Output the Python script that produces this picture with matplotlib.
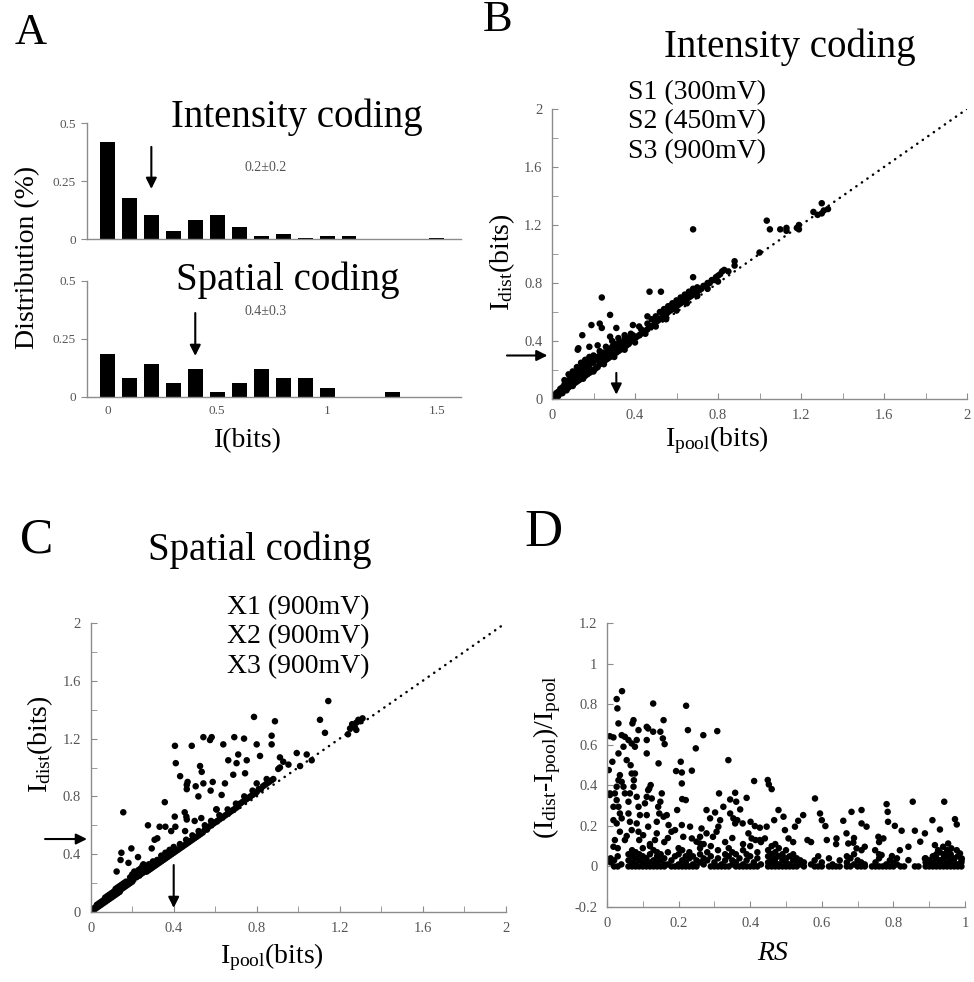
import matplotlib
matplotlib.use("Agg")
import matplotlib.pyplot as plt
from matplotlib.ticker import MultipleLocator, FuncFormatter

plt.rcParams['font.family'] = ['Liberation Serif', 'DejaVu Serif']
plt.rcParams['mathtext.fontset'] = 'custom'
plt.rcParams['mathtext.rm'] = 'Liberation Serif'
plt.rcParams['mathtext.it'] = 'Liberation Serif:italic'

# ---- panel A: histograms of information per pool ----
bin_centers = [0.0, 0.1, 0.2, 0.3, 0.4, 0.5, 0.6, 0.7, 0.8, 0.9, 1.0, 1.1, 1.2, 1.3, 1.4, 1.5]
intensity_dist = [0.42, 0.178, 0.103, 0.034, 0.082, 0.103, 0.053, 0.013, 0.02, 0.003,
                  0.013, 0.013, 0.002, 0.002, 0.002, 0.003]
spatial_dist = [0.184, 0.082, 0.144, 0.06, 0.122, 0.02, 0.06, 0.122, 0.082, 0.082,
                0.04, 0.002, 0.002, 0.02, 0.002, 0.002]
intensity_mean = 0.2
spatial_mean = 0.4

# ---- panel B: intensity coding, (I_pool, I_dist) ----
b_points = [
    (0.01, 0.01), (0.01, 0.02), (0.02, 0.02), (0.02, 0.04), (0.03, 0.03), (0.03, 0.05), (0.03, 0.02),
    (0.04, 0.04), (0.04, 0.07), (0.05, 0.05), (0.05, 0.08), (0.05, 0.04), (0.06, 0.06), (0.06, 0.10),
    (0.06, 0.13), (0.07, 0.07), (0.07, 0.11), (0.07, 0.06), (0.08, 0.08), (0.08, 0.13), (0.08, 0.17),
    (0.09, 0.09), (0.09, 0.14), (0.09, 0.11), (0.10, 0.10), (0.10, 0.16), (0.10, 0.19), (0.10, 0.09),
    (0.11, 0.11), (0.11, 0.18), (0.11, 0.14), (0.12, 0.12), (0.12, 0.19), (0.12, 0.16), (0.12, 0.22),
    (0.13, 0.13), (0.13, 0.21), (0.14, 0.14), (0.14, 0.22), (0.14, 0.18), (0.14, 0.25), (0.15, 0.15),
    (0.15, 0.23), (0.15, 0.19), (0.15, 0.14), (0.16, 0.16), (0.16, 0.24), (0.16, 0.27), (0.17, 0.17),
    (0.17, 0.21), (0.17, 0.26), (0.18, 0.18), (0.18, 0.23), (0.18, 0.29), (0.19, 0.19), (0.19, 0.27),
    (0.20, 0.20), (0.20, 0.25), (0.20, 0.30), (0.20, 0.19), (0.21, 0.21), (0.21, 0.29), (0.22, 0.22),
    (0.22, 0.27), (0.23, 0.24), (0.23, 0.30), (0.23, 0.33), (0.24, 0.25), (0.24, 0.29), (0.25, 0.26),
    (0.25, 0.32), (0.25, 0.24), (0.26, 0.27), (0.26, 0.31), (0.26, 0.36), (0.27, 0.28), (0.27, 0.34),
    (0.28, 0.29), (0.28, 0.32), (0.29, 0.30), (0.29, 0.36), (0.29, 0.40), (0.30, 0.31), (0.30, 0.34),
    (0.30, 0.29), (0.31, 0.32), (0.31, 0.38), (0.32, 0.33), (0.32, 0.36), (0.32, 0.42), (0.33, 0.34),
    (0.33, 0.39), (0.34, 0.35), (0.34, 0.38), (0.35, 0.36), (0.35, 0.41), (0.35, 0.44), (0.35, 0.34),
    (0.36, 0.37), (0.36, 0.40), (0.37, 0.38), (0.37, 0.42), (0.38, 0.40), (0.38, 0.45), (0.39, 0.41),
    (0.39, 0.44), (0.40, 0.42), (0.40, 0.39), (0.41, 0.43), (0.42, 0.44), (0.43, 0.45), (0.43, 0.48),
    (0.44, 0.46), (0.45, 0.47), (0.45, 0.45), (0.46, 0.48), (0.46, 0.52), (0.47, 0.50), (0.48, 0.50),
    (0.48, 0.55), (0.49, 0.51), (0.50, 0.53), (0.50, 0.57), (0.50, 0.50), (0.51, 0.54), (0.52, 0.55),
    (0.52, 0.60), (0.53, 0.56), (0.53, 0.59), (0.54, 0.57), (0.54, 0.62), (0.55, 0.58), (0.55, 0.55),
    (0.56, 0.60), (0.56, 0.64), (0.57, 0.61), (0.58, 0.62), (0.58, 0.66), (0.59, 0.63), (0.60, 0.64),
    (0.60, 0.68), (0.60, 0.61), (0.61, 0.65), (0.62, 0.66), (0.62, 0.70), (0.63, 0.67), (0.64, 0.68),
    (0.64, 0.72), (0.65, 0.69), (0.65, 0.66), (0.66, 0.70), (0.66, 0.74), (0.67, 0.71), (0.68, 0.72),
    (0.68, 0.76), (0.69, 0.73), (0.70, 0.74), (0.70, 0.77), (0.70, 0.71), (0.71, 0.75), (0.72, 0.76),
    (0.73, 0.78), (0.74, 0.78), (0.75, 0.80), (0.75, 0.76), (0.76, 0.80), (0.77, 0.82), (0.78, 0.82),
    (0.79, 0.84), (0.80, 0.85), (0.80, 0.81), (0.81, 0.86), (0.82, 0.88), (0.83, 0.89), (0.85, 0.88),
    # points well above the diagonal
    (0.146, 0.44), (0.127, 0.35), (0.124, 0.34), (0.18, 0.36), (0.19, 0.51), (0.23, 0.52), (0.24, 0.49),
    (0.24, 0.70), (0.28, 0.58), (0.22, 0.37), (0.31, 0.49), (0.28, 0.43), (0.39, 0.51), (0.42, 0.50),
    (0.46, 0.57), (0.47, 0.74), (0.525, 0.74), (0.68, 0.84), (0.68, 1.17),
    (0.88, 0.95), (0.88, 0.92), (1.00, 1.01), (1.035, 1.23), (1.05, 1.17), (1.10, 1.17), (1.13, 1.16),
    (1.13, 1.18), (1.18, 1.18), (1.19, 1.17), (1.19, 1.20), (1.26, 1.29), (1.28, 1.27), (1.30, 1.35),
    (1.30, 1.28), (1.33, 1.31), (1.31, 1.30),
]

# ---- panel C: spatial coding, (I_pool, I_dist) ----
c_points = [
    (0.01, 0.01), (0.01, 0.02), (0.02, 0.02), (0.02, 0.03), (0.03, 0.03), (0.03, 0.05), (0.04, 0.04),
    (0.04, 0.06), (0.05, 0.05), (0.05, 0.07), (0.06, 0.06), (0.06, 0.08), (0.07, 0.07), (0.07, 0.10),
    (0.08, 0.08), (0.08, 0.11), (0.09, 0.09), (0.09, 0.12), (0.10, 0.10), (0.10, 0.13), (0.11, 0.11),
    (0.11, 0.14), (0.12, 0.12), (0.12, 0.16), (0.13, 0.13), (0.13, 0.17), (0.14, 0.14), (0.14, 0.18),
    (0.15, 0.16), (0.15, 0.19), (0.16, 0.17), (0.16, 0.20), (0.17, 0.18), (0.17, 0.21), (0.18, 0.19),
    (0.18, 0.20), (0.19, 0.20), (0.19, 0.24), (0.20, 0.21), (0.20, 0.26), (0.21, 0.25), (0.21, 0.28),
    (0.22, 0.24), (0.22, 0.27), (0.23, 0.25), (0.23, 0.29), (0.24, 0.26), (0.24, 0.30), (0.25, 0.27),
    (0.25, 0.32), (0.26, 0.28), (0.26, 0.30), (0.27, 0.28), (0.27, 0.31), (0.28, 0.29), (0.28, 0.33),
    (0.29, 0.30), (0.29, 0.32), (0.30, 0.31), (0.30, 0.35), (0.31, 0.32), (0.32, 0.33), (0.32, 0.36),
    (0.33, 0.34), (0.34, 0.35), (0.34, 0.39), (0.35, 0.36), (0.36, 0.37), (0.36, 0.41), (0.37, 0.38),
    (0.38, 0.39), (0.38, 0.43), (0.39, 0.40), (0.40, 0.41), (0.40, 0.45), (0.41, 0.42), (0.42, 0.43),
    (0.43, 0.44), (0.43, 0.47), (0.44, 0.45), (0.45, 0.46), (0.46, 0.47), (0.46, 0.50), (0.47, 0.48),
    (0.48, 0.49), (0.49, 0.50), (0.49, 0.53), (0.50, 0.51), (0.51, 0.52), (0.52, 0.53), (0.52, 0.56),
    (0.53, 0.54), (0.54, 0.55), (0.55, 0.57), (0.55, 0.60), (0.56, 0.57), (0.57, 0.59), (0.58, 0.60),
    (0.58, 0.63), (0.59, 0.61), (0.60, 0.62), (0.61, 0.63), (0.62, 0.64), (0.62, 0.67), (0.63, 0.65),
    (0.64, 0.66), (0.65, 0.67), (0.66, 0.68), (0.66, 0.71), (0.67, 0.69), (0.68, 0.70), (0.69, 0.71),
    (0.70, 0.72), (0.70, 0.75), (0.71, 0.73), (0.72, 0.75), (0.73, 0.76), (0.74, 0.77), (0.74, 0.80),
    (0.75, 0.78), (0.76, 0.79), (0.77, 0.80), (0.78, 0.81), (0.78, 0.84), (0.79, 0.82), (0.80, 0.83),
    (0.81, 0.85), (0.82, 0.85), (0.83, 0.87), (0.84, 0.88), (0.85, 0.89), (0.86, 0.90), (0.87, 0.91),
    (0.88, 0.92),
    # points above the band
    (0.157, 0.69), (0.148, 0.41), (0.196, 0.44), (0.144, 0.36), (0.125, 0.28), (0.182, 0.34),
    (0.228, 0.38), (0.254, 0.33), (0.276, 0.60), (0.308, 0.50), (0.294, 0.44), (0.321, 0.51),
    (0.332, 0.59), (0.360, 0.59), (0.357, 0.76), (0.388, 0.56), (0.405, 0.66), (0.408, 0.59),
    (0.455, 0.56), (0.453, 0.69), (0.461, 0.66), (0.463, 0.64), (0.501, 0.63), (0.533, 0.65),
    (0.605, 0.71), (0.607, 0.71), (0.406, 1.15), (0.410, 1.03), (0.431, 0.94), (0.463, 0.88),
    (0.467, 0.90), (0.463, 0.85), (0.487, 1.15), (0.506, 0.87), (0.519, 0.80), (0.527, 1.01),
    (0.535, 0.97), (0.543, 1.21), (0.543, 0.89), (0.578, 0.84), (0.583, 1.21), (0.588, 0.90),
    (0.575, 1.19), (0.631, 0.81), (0.639, 1.16), (0.647, 0.89), (0.663, 1.05), (0.687, 0.95),
    (0.692, 1.21), (0.703, 1.03), (0.711, 1.09), (0.739, 1.20), (0.744, 0.96), (0.752, 1.05),
    (0.787, 1.35), (0.800, 1.16), (0.800, 0.89), (0.816, 1.08), (0.848, 0.92), (0.872, 1.22),
    (0.872, 1.16), (0.888, 1.32), (0.904, 0.99), (0.912, 1.00), (0.912, 1.07), (0.928, 1.04),
    (0.953, 1.02), (0.993, 1.10), (1.009, 1.01), (1.041, 1.09), (1.065, 1.05), (1.105, 1.33),
    (1.129, 1.24), (1.145, 1.46), (1.24, 1.23), (1.25, 1.27), (1.26, 1.30), (1.27, 1.28),
    (1.28, 1.31), (1.29, 1.33), (1.30, 1.32), (1.31, 1.34), (1.28, 1.26),
]

# ---- panel D: relative gain vs RS, (RS, (I_dist-I_pool)/I_pool) ----
d_points = [
    # upper scatter
    (0.042, 0.864), (0.027, 0.825), (0.029, 0.779), (0.032, 0.705), (0.129, 0.803), (0.221, 0.792),
    (0.226, 0.672), (0.308, 0.667), (0.269, 0.647), (0.248, 0.582), (0.008, 0.642), (0.018, 0.636),
    (0.074, 0.721), (0.071, 0.705), (0.088, 0.672), (0.111, 0.688), (0.115, 0.680), (0.158, 0.721),
    (0.149, 0.664), (0.156, 0.631), (0.161, 0.603), (0.129, 0.664), (0.041, 0.647), (0.050, 0.639),
    (0.060, 0.623), (0.069, 0.606), (0.083, 0.623), (0.078, 0.590), (0.046, 0.590), (0.032, 0.557),
    (0.111, 0.623), (0.111, 0.557), (0.055, 0.524), (0.015, 0.516), (0.144, 0.508), (0.206, 0.516),
    (0.209, 0.463), (0.237, 0.472), (0.193, 0.470), (0.005, 0.475), (0.339, 0.524), (0.209, 0.409),
    (0.411, 0.421), (0.449, 0.426), (0.452, 0.404), (0.460, 0.381), (0.581, 0.335), (0.313, 0.360),
    (0.358, 0.363), (0.344, 0.330), (0.361, 0.319), (0.390, 0.338), (0.210, 0.332), (0.220, 0.327),
    (0.008, 0.360), (0.008, 0.352), (0.854, 0.319), (0.942, 0.319), (0.781, 0.307), (0.683, 0.269),
    (0.711, 0.278), (0.784, 0.269), (0.972, 0.233), (0.977, 0.207), (0.909, 0.228), (0.930, 0.182),
    (0.660, 0.225), (0.711, 0.212), (0.725, 0.196), (0.785, 0.220), (0.804, 0.200), (0.823, 0.176),
    (0.860, 0.176), (0.888, 0.163), (0.595, 0.261), (0.600, 0.228), (0.610, 0.199), (0.614, 0.130),
    (0.641, 0.138), (0.669, 0.163), (0.674, 0.113), (0.688, 0.117), (0.697, 0.089), (0.711, 0.080),
    (0.720, 0.097), (0.749, 0.080), (0.758, 0.146), (0.772, 0.138), (0.767, 0.056), (0.796, 0.051),
    (0.818, 0.080), (0.842, 0.097), (0.875, 0.122), (0.888, 0.039), (0.842, 0.031), (0.916, 0.105),
    (0.925, 0.080), (0.939, 0.097), (0.953, 0.113), (0.962, 0.089), (0.977, 0.080), (0.986, 0.064),
    (0.991, 0.039), (0.548, 0.253), (0.534, 0.225), (0.525, 0.196), (0.507, 0.138), (0.493, 0.245),
    (0.497, 0.179), (0.479, 0.278), (0.467, 0.228), (0.446, 0.196), (0.427, 0.191), (0.413, 0.199),
    (0.401, 0.220), (0.395, 0.163), (0.441, 0.138), (0.427, 0.130), (0.415, 0.130), (0.404, 0.138),
    (0.372, 0.281), (0.353, 0.237), (0.364, 0.228), (0.358, 0.212), (0.379, 0.212), (0.344, 0.261),
    (0.325, 0.294), (0.302, 0.266), (0.288, 0.237), (0.278, 0.278), (0.316, 0.228), (0.311, 0.196),
    (0.306, 0.171), (0.296, 0.146), (0.278, 0.163), (0.264, 0.187), (0.260, 0.146), (0.260, 0.113),
    (0.250, 0.122), (0.232, 0.196), (0.237, 0.138), (0.209, 0.204), (0.213, 0.146), (0.196, 0.278),
    (0.190, 0.179), (0.180, 0.171), (0.172, 0.204), (0.167, 0.253), (0.158, 0.245), (0.153, 0.360),
    (0.149, 0.319), (0.143, 0.294), (0.146, 0.261), (0.139, 0.220), (0.139, 0.163), (0.134, 0.130),
    (0.125, 0.335), (0.118, 0.384), (0.122, 0.401), (0.115, 0.376), (0.111, 0.343), (0.106, 0.311),
    (0.111, 0.253), (0.115, 0.196), (0.101, 0.154), (0.088, 0.171), (0.083, 0.212), (0.092, 0.253),
    (0.088, 0.294), (0.083, 0.343), (0.074, 0.393), (0.075, 0.425), (0.069, 0.458), (0.066, 0.499),
    (0.078, 0.458), (0.064, 0.360), (0.060, 0.319), (0.060, 0.261), (0.064, 0.220), (0.069, 0.179),
    (0.050, 0.360), (0.046, 0.393), (0.041, 0.417), (0.036, 0.450), (0.032, 0.425), (0.027, 0.393),
    (0.022, 0.360), (0.027, 0.327), (0.032, 0.294), (0.036, 0.261), (0.041, 0.237), (0.027, 0.212),
    (0.018, 0.228), (0.018, 0.294), (0.036, 0.171), (0.022, 0.130), (0.018, 0.097), (0.050, 0.130),
    (0.055, 0.150), (0.090, 0.130), (0.120, 0.110), (0.160, 0.120), (0.170, 0.140), (0.270, 0.110),
    (0.330, 0.120), (0.350, 0.140), (0.380, 0.110), (0.430, 0.120), (0.470, 0.110), (0.520, 0.120),
    (0.560, 0.130), (0.570, 0.120), (0.640, 0.110), (0.690, 0.140), (0.760, 0.120),
    # dense band near zero
    (0.01, 0.02), (0.01, 0.04), (0.02, 0.00), (0.02, 0.03), (0.03, 0.00), (0.03, 0.05), (0.03, 0.09),
    (0.04, 0.01), (0.06, 0.00), (0.06, 0.03), (0.06, 0.06), (0.07, 0.00), (0.07, 0.02), (0.07, 0.05),
    (0.07, 0.08), (0.08, 0.00), (0.08, 0.01), (0.08, 0.04), (0.08, 0.07), (0.09, 0.00), (0.09, 0.03),
    (0.09, 0.06), (0.10, 0.00), (0.10, 0.02), (0.10, 0.05), (0.10, 0.09), (0.11, 0.00), (0.11, 0.01),
    (0.11, 0.04), (0.12, 0.00), (0.12, 0.02), (0.12, 0.06), (0.12, 0.10), (0.13, 0.00), (0.13, 0.01),
    (0.13, 0.03), (0.13, 0.08), (0.14, 0.00), (0.14, 0.02), (0.14, 0.05), (0.14, 0.07), (0.15, 0.00),
    (0.15, 0.03), (0.15, 0.06), (0.16, 0.00), (0.16, 0.01), (0.16, 0.04), (0.17, 0.01), (0.17, 0.07),
    (0.18, 0.00), (0.18, 0.03), (0.19, 0.00), (0.19, 0.05), (0.20, 0.00), (0.20, 0.01), (0.20, 0.06),
    (0.20, 0.09), (0.21, 0.00), (0.21, 0.03), (0.21, 0.08), (0.22, 0.00), (0.22, 0.02), (0.22, 0.05),
    (0.23, 0.00), (0.23, 0.04), (0.23, 0.07), (0.24, 0.00), (0.24, 0.01), (0.24, 0.05), (0.25, 0.00),
    (0.25, 0.03), (0.26, 0.02), (0.26, 0.06), (0.26, 0.09), (0.27, 0.01), (0.27, 0.04), (0.28, 0.03),
    (0.28, 0.07), (0.29, 0.00), (0.29, 0.05), (0.29, 0.10), (0.30, 0.00), (0.30, 0.02), (0.31, 0.00),
    (0.31, 0.04), (0.31, 0.08), (0.32, 0.00), (0.32, 0.01), (0.33, 0.00), (0.33, 0.03), (0.33, 0.06),
    (0.34, 0.00), (0.34, 0.05), (0.34, 0.09), (0.35, 0.01), (0.35, 0.03), (0.35, 0.07), (0.36, 0.00),
    (0.36, 0.02), (0.36, 0.06), (0.37, 0.00), (0.37, 0.04), (0.38, 0.00), (0.38, 0.01), (0.38, 0.08),
    (0.39, 0.00), (0.39, 0.03), (0.39, 0.06), (0.40, 0.00), (0.40, 0.05), (0.40, 0.10), (0.41, 0.00),
    (0.41, 0.02), (0.42, 0.00), (0.42, 0.04), (0.42, 0.07), (0.43, 0.01), (0.45, 0.00), (0.45, 0.02),
    (0.45, 0.05), (0.45, 0.08), (0.46, 0.00), (0.46, 0.01), (0.46, 0.03), (0.46, 0.06), (0.46, 0.10),
    (0.47, 0.00), (0.47, 0.02), (0.47, 0.04), (0.47, 0.07), (0.48, 0.00), (0.48, 0.01), (0.48, 0.05),
    (0.48, 0.09), (0.49, 0.00), (0.49, 0.03), (0.49, 0.06), (0.50, 0.00), (0.50, 0.02), (0.50, 0.04),
    (0.50, 0.08), (0.51, 0.00), (0.51, 0.01), (0.51, 0.05), (0.52, 0.00), (0.52, 0.03), (0.52, 0.06),
    (0.53, 0.00), (0.53, 0.02), (0.53, 0.04), (0.54, 0.01), (0.54, 0.03), (0.55, 0.00), (0.55, 0.02),
    (0.57, 0.01), (0.58, 0.00), (0.58, 0.03), (0.59, 0.00), (0.59, 0.05), (0.60, 0.00), (0.60, 0.02),
    (0.62, 0.00), (0.62, 0.04), (0.63, 0.00), (0.63, 0.01), (0.64, 0.00), (0.65, 0.00), (0.65, 0.03),
    (0.67, 0.00), (0.67, 0.02), (0.67, 0.05), (0.68, 0.00), (0.68, 0.04), (0.69, 0.01), (0.69, 0.06),
    (0.70, 0.00), (0.70, 0.03), (0.71, 0.00), (0.71, 0.02), (0.72, 0.00), (0.72, 0.01), (0.74, 0.00),
    (0.75, 0.00), (0.75, 0.02), (0.76, 0.00), (0.76, 0.04), (0.76, 0.06), (0.77, 0.00), (0.78, 0.00),
    (0.78, 0.01), (0.79, 0.00), (0.79, 0.03), (0.80, 0.00), (0.80, 0.02), (0.81, 0.01), (0.81, 0.04),
    (0.82, 0.00), (0.83, 0.00), (0.86, 0.00), (0.87, 0.00), (0.89, 0.00), (0.89, 0.02), (0.89, 0.04),
    (0.90, 0.00), (0.90, 0.01), (0.90, 0.03), (0.91, 0.00), (0.91, 0.02), (0.91, 0.05), (0.92, 0.00),
    (0.92, 0.01), (0.92, 0.04), (0.92, 0.06), (0.93, 0.00), (0.93, 0.02), (0.93, 0.03), (0.93, 0.07),
    (0.94, 0.00), (0.94, 0.01), (0.94, 0.04), (0.94, 0.06), (0.95, 0.00), (0.95, 0.02), (0.95, 0.05),
    (0.95, 0.08), (0.96, 0.00), (0.96, 0.01), (0.96, 0.03), (0.96, 0.06), (0.97, 0.00), (0.97, 0.02),
    (0.97, 0.04), (0.98, 0.00), (0.98, 0.01), (0.98, 0.05), (0.99, 0.00), (0.99, 0.02), (0.99, 0.03),
]

W, H = 974, 982
GREY = '#8c8c8c'
TICKC = '#555555'
DOT = 22
fig = plt.figure(figsize=(W / 100, H / 100), dpi=100)


def add_axes_px(left, top, right, bottom):
    return fig.add_axes([left / W, 1 - bottom / H, (right - left) / W, (bottom - top) / H])


def ftext(px, py, s, **kw):
    fig.text(px / W, 1 - py / H, s, **kw)


def arrow(ax, tail, head):
    ax.annotate('', xy=head, xytext=tail, annotation_clip=False,
                arrowprops=dict(arrowstyle='-|>', color='k', lw=1.5,
                                mutation_scale=16, shrinkA=0, shrinkB=0))


def style(ax):
    for s in ['top', 'right']:
        ax.spines[s].set_visible(False)
    for s in ['left', 'bottom']:
        ax.spines[s].set_color(GREY)
        ax.spines[s].set_linewidth(1)


fmt = FuncFormatter(lambda v, p: '%g' % round(v, 2))

# ---- A ----
for k, (top, bottom, vals, mean) in enumerate([(123, 239, intensity_dist, intensity_mean),
                                                (281, 397, spatial_dist, spatial_mean)]):
    ax = add_axes_px(87, top, 461, bottom)
    ax.bar(bin_centers, vals, width=0.068, color='k')
    ax.set_xlim(-0.093, 1.61)
    ax.set_ylim(0, 0.5)
    style(ax)
    ax.set_yticks([0, 0.25, 0.5])
    ax.yaxis.set_major_formatter(fmt)
    ax.tick_params(axis='y', direction='out', length=4, color=GREY, labelcolor=TICKC,
                   labelsize=9.5, pad=4)
    if k == 0:
        ax.set_xticks([])
        arrow(ax, (mean, 0.397), (mean, 0.216))
    else:
        ax.set_xticks([0, 0.5, 1, 1.5])
        ax.xaxis.set_major_formatter(fmt)
        ax.tick_params(axis='x', length=0, labelcolor=TICKC, labelsize=9.5, pad=6)
        arrow(ax, (mean, 0.362), (mean, 0.177))

ftext(31, 33, 'A', fontsize=32, ha='center', va='center')
ftext(297, 127, 'Intensity coding', fontsize=28, ha='center', va='baseline')
ftext(288, 290, 'Spatial coding', fontsize=28, ha='center', va='baseline')
ftext(266, 171, '0.2\u00b10.2', fontsize=10, ha='center', va='baseline', color=TICKC)
ftext(266, 315, '0.4\u00b10.3', fontsize=10, ha='center', va='baseline', color=TICKC)
ftext(28, 257, 'Distribution (%)', fontsize=20, ha='center', va='center', rotation=90)
ftext(248, 441, 'I(bits)', fontsize=20, ha='center', va='center')


def scatter_panel(ax, pts):
    xs = [p[0] for p in pts]
    ys = [p[1] for p in pts]
    ax.plot([0, 2], [0, 2], color='k', lw=1.8, linestyle=(0, (0.1, 2.6)),
            dash_capstyle='round', zorder=1)
    ax.scatter(xs, ys, s=DOT, color='k', edgecolors='none', zorder=2)
    ax.set_xlim(0, 2)
    ax.set_ylim(0, 2)
    style(ax)
    for a in (ax.xaxis, ax.yaxis):
        a.set_major_locator(MultipleLocator(0.4))
        a.set_minor_locator(MultipleLocator(0.2))
        a.set_major_formatter(fmt)
    ax.tick_params(which='both', direction='in', length=4, color=GREY,
                   labelcolor=TICKC, labelsize=10.5, pad=7)


# ---- B ----
axb = add_axes_px(552, 109, 967, 399)
scatter_panel(axb, b_points)
arrow(axb, (-0.217, 0.30), (-0.022, 0.30))
arrow(axb, (0.31, 0.18), (0.31, 0.03))
ftext(498, 20, 'B', fontsize=32, ha='center', va='center')
ftext(790, 57, 'Intensity coding', fontsize=28, ha='center', va='baseline')
for i, s in enumerate(['S1 (300mV)', 'S2 (450mV)', 'S3 (900mV)']):
    ftext(628, 99 + 29.5 * i, s, fontsize=20, ha='left', va='baseline')
ftext(502, 262, r'$\mathregular{I_{dist}}$(bits)', fontsize=20, ha='center', va='center', rotation=90)
ftext(717, 440, r'$\mathregular{I_{pool}}$(bits)', fontsize=20, ha='center', va='center')

# ---- C ----
axc = add_axes_px(90.7, 623, 505.7, 912)
scatter_panel(axc, c_points)
arrow(axc, (-0.22, 0.505), (-0.018, 0.505))
arrow(axc, (0.40, 0.325), (0.40, 0.028))
ftext(37, 540, 'C', fontsize=36, ha='center', va='center')
ftext(260, 560, 'Spatial coding', fontsize=28, ha='center', va='baseline')
for i, s in enumerate(['X1 (900mV)', 'X2 (900mV)', 'X3 (900mV)']):
    ftext(227, 614 + 29.5 * i, s, fontsize=20, ha='left', va='baseline')
ftext(40, 744, r'$\mathregular{I_{dist}}$(bits)', fontsize=20, ha='center', va='center', rotation=90)
ftext(272, 957, r'$\mathregular{I_{pool}}$(bits)', fontsize=20, ha='center', va='center')

# ---- D ----
axd = add_axes_px(607, 623, 965, 907)
axd.scatter([p[0] for p in d_points], [p[1] for p in d_points], s=DOT, color='k',
            edgecolors='none', zorder=2)
axd.set_xlim(0, 1)
axd.set_ylim(-0.2, 1.2)
style(axd)
axd.xaxis.set_major_locator(MultipleLocator(0.2))
axd.xaxis.set_minor_locator(MultipleLocator(0.1))
axd.yaxis.set_major_locator(MultipleLocator(0.2))
axd.xaxis.set_major_formatter(fmt)
axd.yaxis.set_major_formatter(fmt)
axd.tick_params(which='both', direction='in', length=4, color=GREY,
                labelcolor=TICKC, labelsize=10.5, pad=7)
ftext(544, 533, 'D', fontsize=38, ha='center', va='center')
ftext(547, 757, r'($\mathregular{I_{dist}}$-$\mathregular{I_{pool}}$)/$\mathregular{I_{pool}}$',
      fontsize=20, ha='center', va='center', rotation=90)
ftext(773, 954, 'RS', fontsize=20, ha='center', va='center', style='italic')

fig.savefig('out.png', dpi=100)
